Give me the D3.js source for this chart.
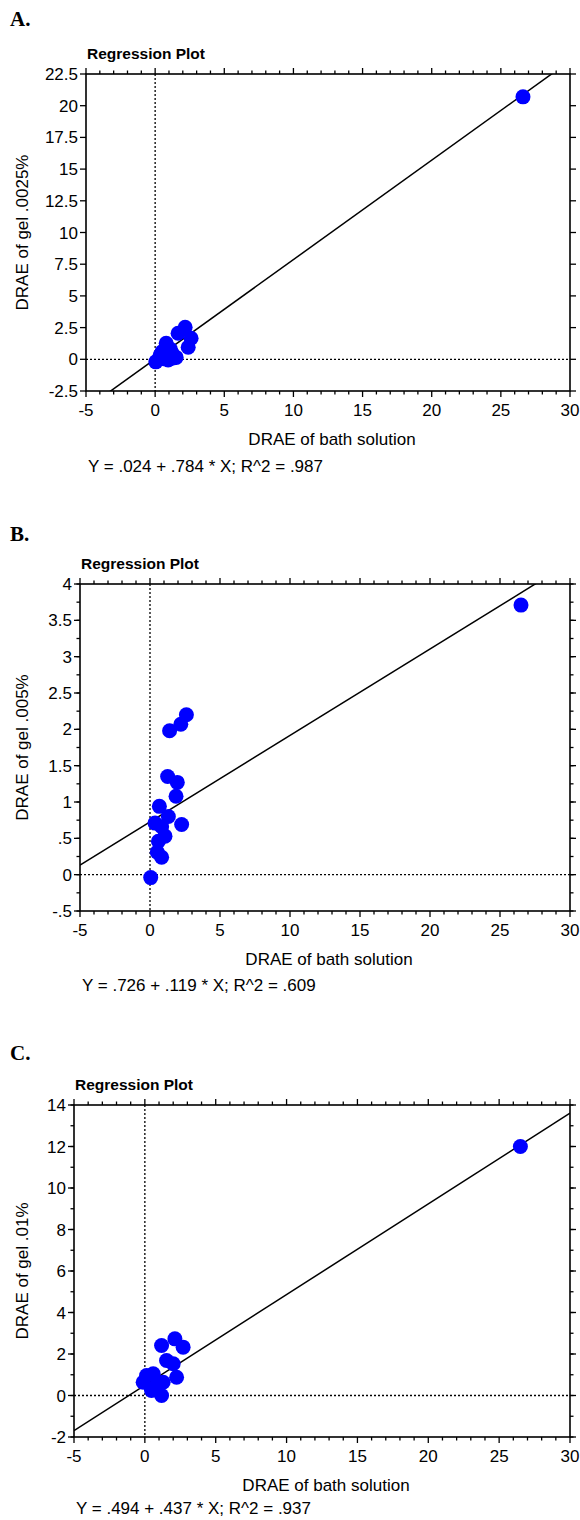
<!DOCTYPE html>
<html>
<head>
<meta charset="utf-8">
<script src="https://cdn.jsdelivr.net/npm/d3@7"></script>
<style>
  body { margin: 0; background: #fff; }
  svg { display: block; font-family: "Liberation Sans", Arial, sans-serif; }
</style>
</head>
<body>
<div id="chart"></div>
<script>
// DRAE values
var bathA = [26.6, 2.17, 1.66, 2.6, 2.39, 0.8, 1.23, 0.36, 0.05, 0.6, 1.3, 1.1, 0.94, 1.52, 0.5];
var gelA  = [20.7, 2.52, 2.05, 1.66, 0.95, 1.26, 0.47, 0.32, -0.2, 0.05, 0.1, 0.8, -0.05, 0.15, 0.6];

var bathB = [26.5, 2.6, 2.2, 1.4, 1.26, 1.95, 1.86, 0.67, 1.31, 0.36, 2.26, 0.83, 1.07, 0.6, 0.52, 0.83, 0.05];
var gelB  = [3.71, 2.2, 2.07, 1.98, 1.35, 1.27, 1.08, 0.94, 0.80, 0.71, 0.69, 0.66, 0.53, 0.46, 0.31, 0.24, -0.04];

var bathC = [26.5, 2.12, 1.18, 2.7, 1.53, 2.0, 2.24, 0.12, -0.12, 0.59, 0.83, 0.47, 1.18, 1.29];
var gelC  = [12.0, 2.73, 2.41, 2.33, 1.69, 1.53, 0.88, 0.96, 0.64, 1.05, 0.48, 0.24, 0.0, 0.64];

// regression fits printed under each plot
var intercepts = [0.024, 0.726, 0.494];
var slopes = [0.784, 0.119, 0.437];
var r2 = [0.987, 0.609, 0.937];

var panelLetters = ["A.", "B.", "C."];
var yTitles = ["DRAE of gel .0025%", "DRAE of gel .005%", "DRAE of gel .01%"];
var yDomains = [[-2.5, 22.5], [-0.5, 4], [-2, 14]];
var yMajorStep = [2.5, 0.5, 2];
var yMinorStep = [0, 0.25, 1];
var xDomain = [-5, 30];

var W = 580, H = 1520;
var svg = d3.select("#chart").append("svg")
    .attr("width", W)
    .attr("height", H);

// layout of each panel (pixels)
var layout = [
    {top: 74, bottom: 391, left: 86, letterY: 26, eqY: 472},
    {top: 584, bottom: 911, left: 80, letterY: 541, eqY: 991},
    {top: 1105, bottom: 1437, left: 74, letterY: 1060, eqY: 1514}
];
var right = 570;

// tick labels drop the leading zero: .5, -.5
function fmt(d) {
    var s = String(Math.round(d * 100) / 100);
    return s.replace(/^0\./, ".").replace(/^-0\./, "-.");
}
// coefficients: three decimals, no leading zero
function coef(d) {
    return d3.format(".3f")(d).replace(/^0\./, ".");
}

function stepRange(lo, hi, step) {
    var out = [];
    var n = Math.round((hi - lo) / step);
    for (var i = 0; i <= n; i++) out.push(lo + i * step);
    return out;
}

var datasets = [[bathA, gelA], [bathB, gelB], [bathC, gelC]];

datasets.forEach(function(ds, p) {
    var L = layout[p];
    var x = d3.scaleLinear().domain(xDomain).range([L.left, right]);
    var y = d3.scaleLinear().domain(yDomains[p]).range([L.bottom, L.top]);
    var g = svg.append("g");

    // panel letter
    g.append("text")
        .attr("x", 10)
        .attr("y", L.letterY)
        .attr("font-family", "'Liberation Serif', 'Times New Roman', serif")
        .attr("font-weight", "bold")
        .attr("font-size", "21px")
        .text(panelLetters[p]);

    // title
    g.append("text")
        .attr("x", L.left + 1)
        .attr("y", L.top - 15)
        .attr("font-weight", "bold")
        .attr("font-size", "15.5px")
        .text("Regression Plot");

    // x ticks on bottom and top (outward)
    var xMinor = d3.range(-5, 31, 1);
    var xMajor = d3.range(-5, 31, 5);
    [[L.bottom, 1], [L.top, -1]].forEach(function(side) {
        g.selectAll(null)
            .data(xMinor)
            .enter().append("line")
            .attr("x1", function(d) { return x(d); })
            .attr("x2", function(d) { return x(d); })
            .attr("y1", side[0])
            .attr("y2", function(d) { return side[0] + side[1] * (d % 5 === 0 ? 6 : 3.5); })
            .attr("stroke", "#000")
            .attr("stroke-width", 1.3);
    });

    // y ticks on left and right
    var yMaj = stepRange(yDomains[p][0], yDomains[p][1], yMajorStep[p]);
    var yMin = yMinorStep[p] ? stepRange(yDomains[p][0], yDomains[p][1], yMinorStep[p]) : [];
    [[L.left, -1], [right, 1]].forEach(function(side) {
        g.selectAll(null)
            .data(yMin)
            .enter().append("line")
            .attr("x1", side[0])
            .attr("x2", side[0] + side[1] * 3.5)
            .attr("y1", function(d) { return y(d); })
            .attr("y2", function(d) { return y(d); })
            .attr("stroke", "#000")
            .attr("stroke-width", 1.3);
        g.selectAll(null)
            .data(yMaj)
            .enter().append("line")
            .attr("x1", side[0])
            .attr("x2", side[0] + side[1] * 6)
            .attr("y1", function(d) { return y(d); })
            .attr("y2", function(d) { return y(d); })
            .attr("stroke", "#000")
            .attr("stroke-width", 1.3);
    });

    // tick labels
    g.selectAll(null)
        .data(yMaj)
        .enter().append("text")
        .attr("x", L.left - 8)
        .attr("y", function(d) { return y(d) + 6; })
        .attr("text-anchor", "end")
        .attr("font-size", "17px")
        .text(fmt);

    g.selectAll(null)
        .data(xMajor)
        .enter().append("text")
        .attr("x", function(d) { return x(d); })
        .attr("y", L.bottom + 25)
        .attr("text-anchor", "middle")
        .attr("font-size", "17px")
        .text(fmt);

    // axis titles
    g.append("text")
        .attr("x", (L.left + right) / 2 + 4)
        .attr("y", L.bottom + 54)
        .attr("text-anchor", "middle")
        .attr("font-size", "17px")
        .text("DRAE of bath solution");

    g.append("text")
        .attr("transform", "translate(28," + ((L.top + L.bottom) / 2) + ") rotate(-90)")
        .attr("text-anchor", "middle")
        .attr("font-size", "17px")
        .text(yTitles[p]);

    // equation
    g.append("text")
        .attr("x", L.left + 2)
        .attr("y", L.eqY)
        .attr("font-size", "17px")
        .text("Y = " + coef(intercepts[p]) + " + " + coef(slopes[p]) + " * X; R^2 = " + coef(r2[p]));

    // clip for the fitted line
    g.append("clipPath")
        .attr("id", "clip" + p)
        .append("rect")
        .attr("x", L.left)
        .attr("y", L.top)
        .attr("width", right - L.left)
        .attr("height", L.bottom - L.top);

    // dotted zero lines
    g.append("line")
        .attr("x1", x(0)).attr("x2", x(0))
        .attr("y1", L.top).attr("y2", L.bottom)
        .attr("stroke", "#000")
        .attr("stroke-width", 1.3)
        .attr("stroke-dasharray", "2,2");
    g.append("line")
        .attr("x1", L.left).attr("x2", right)
        .attr("y1", y(0)).attr("y2", y(0))
        .attr("stroke", "#000")
        .attr("stroke-width", 1.3)
        .attr("stroke-dasharray", "2,2");

    // regression line
    g.append("line")
        .attr("clip-path", "url(#clip" + p + ")")
        .attr("x1", x(xDomain[0]))
        .attr("y1", y(intercepts[p] + slopes[p] * xDomain[0]))
        .attr("x2", x(xDomain[1]))
        .attr("y2", y(intercepts[p] + slopes[p] * xDomain[1]))
        .attr("stroke", "#000")
        .attr("stroke-width", 1.5);

    // frame
    g.append("rect")
        .attr("x", L.left)
        .attr("y", L.top)
        .attr("width", right - L.left)
        .attr("height", L.bottom - L.top)
        .attr("fill", "none")
        .attr("stroke", "#000")
        .attr("stroke-width", 1.6);

    // points
    g.selectAll("circle")
        .data(ds[0])
        .enter().append("circle")
        .attr("cx", function(d) { return x(d); })
        .attr("cy", function(d, i) { return y(ds[1][i]); })
        .attr("r", 7.5)
        .attr("fill", "#0000ff");
});
</script>
</body>
</html>
